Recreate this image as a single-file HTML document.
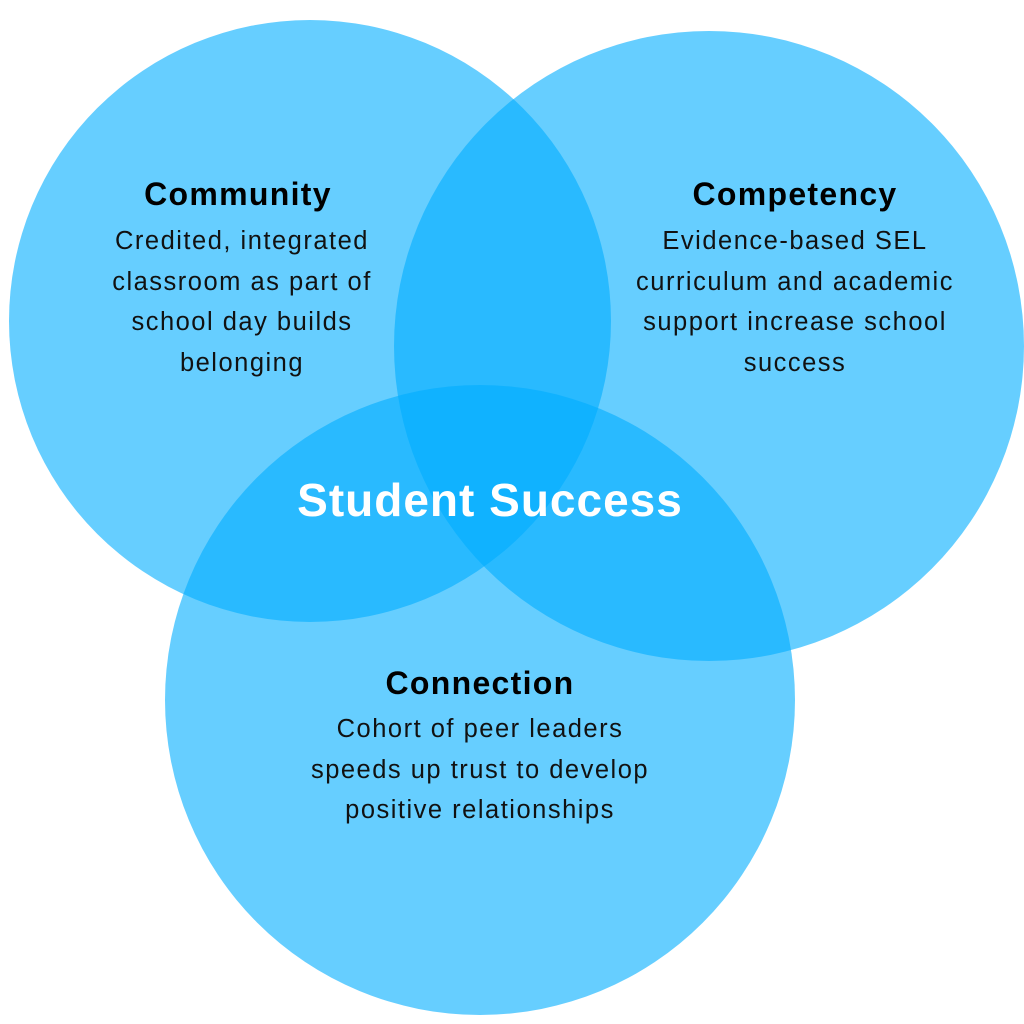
<!DOCTYPE html>
<html><head><meta charset="utf-8"><style>
html,body{margin:0;padding:0;background:#fff;}
svg{display:block;}
text{font-family:"Liberation Sans",sans-serif;}
.h{font-weight:bold;font-size:32px;fill:#000;letter-spacing:1.3px;}
.b{font-size:25.5px;fill:#111;letter-spacing:1.5px;}
</style></head><body>
<svg width="1024" height="1024" viewBox="0 0 1024 1024">
<g fill="rgb(0,174,255)" fill-opacity="0.6">
<circle cx="310" cy="321" r="301"/>
<circle cx="709" cy="346" r="315"/>
<circle cx="480" cy="700" r="315"/>
</g>
<g text-anchor="middle">
<text class="h" x="238" y="205">Community</text>
<text class="b" x="242" y="249">Credited, integrated</text>
<text class="b" x="242" y="290">classroom as part of</text>
<text class="b" x="242" y="330">school day builds</text>
<text class="b" x="242" y="371">belonging</text>
<text class="h" x="795" y="205">Competency</text>
<text class="b" x="795" y="249">Evidence-based SEL</text>
<text class="b" x="795" y="290">curriculum and academic</text>
<text class="b" x="795" y="330">support increase school</text>
<text class="b" x="795" y="371">success</text>
<text class="h" x="480" y="694">Connection</text>
<text class="b" x="480" y="737">Cohort of peer leaders</text>
<text class="b" x="480" y="778">speeds up trust to develop</text>
<text class="b" x="480" y="818">positive relationships</text>
<text x="490" y="516" style="font-weight:bold;font-size:46px;fill:#fff;letter-spacing:1px;">Student Success</text>
</g>
</svg>
</body></html>
